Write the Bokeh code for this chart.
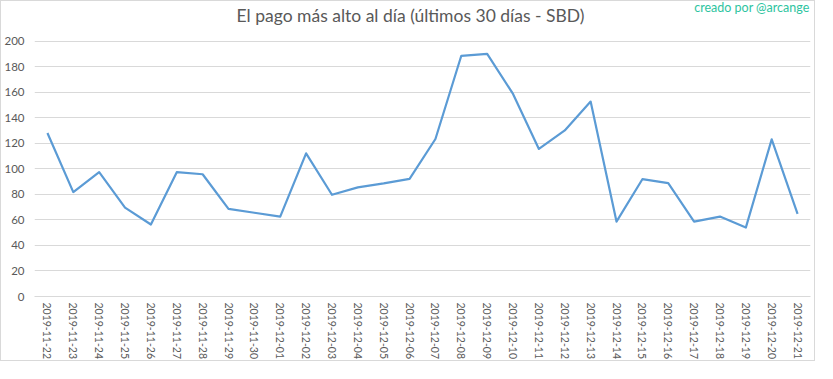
from bokeh.plotting import figure
from bokeh.models import Range1d, FixedTicker, Label
from bokeh.embed import file_html
from bokeh.resources import INLINE

dates = ["2019-11-22", "2019-11-23", "2019-11-24", "2019-11-25", "2019-11-26",
         "2019-11-27", "2019-11-28", "2019-11-29", "2019-11-30", "2019-12-01",
         "2019-12-02", "2019-12-03", "2019-12-04", "2019-12-05", "2019-12-06",
         "2019-12-07", "2019-12-08", "2019-12-09", "2019-12-10", "2019-12-11",
         "2019-12-12", "2019-12-13", "2019-12-14", "2019-12-15", "2019-12-16",
         "2019-12-17", "2019-12-18", "2019-12-19", "2019-12-20", "2019-12-21"]
payout = [128.1, 81.8, 97.4, 69.6, 56.4,
          97.4, 95.8, 68.6, 65.6, 62.6,
          112.2, 79.7, 85.5, 88.6, 92.2,
          123.4, 188.6, 190.1, 158.7, 115.6,
          130.1, 152.7, 58.7, 91.9, 88.8,
          58.7, 62.6, 54.0, 123.1, 64.7]
y_ticks = [0, 20, 40, 60, 80, 100, 120, 140, 160, 180, 200]

title_text = "El pago más alto al día (últimos 30 días - SBD)"
credit_text = "creado por @arcange"

idx = list(range(len(dates)))

W, H = 815, 361
BOTTOM = 64          # x-axis panel height
TOP_GAP = 40         # pixels between canvas top and the 200 gridline
frame_h = H - BOTTOM
y_top = 200 * frame_h / (frame_h - TOP_GAP)

p = figure(width=W, height=H, x_range=Range1d(-0.5, len(dates) - 0.5),
           y_range=Range1d(0, y_top),
           output_backend="svg", toolbar_location=None,
           min_border_left=30, min_border_right=6, min_border_top=0,
           min_border_bottom=BOTTOM)
p.outline_line_color = None
p.background_fill_color = "white"
p.border_fill_color = "white"
p.styles = {"border": "1px solid #d9d9d9"}

p.line(x=idx, y=payout, line_color="#5b9bd5", line_width=2.2, line_join="round")

grey = "#595959"
p.xgrid.grid_line_color = None
p.ygrid.grid_line_color = "#d9d9d9"
p.ygrid.grid_line_width = 1

p.yaxis.ticker = FixedTicker(ticks=y_ticks)
p.yaxis.axis_line_color = None
p.yaxis.major_tick_line_color = None
p.yaxis.minor_tick_line_color = None
p.yaxis.major_tick_out = 0
p.yaxis.major_tick_in = 0
p.yaxis.major_label_standoff = 10
p.yaxis.major_label_text_color = grey
p.yaxis.major_label_text_font = "Lato"
p.yaxis.major_label_text_font_size = "11.5px"

p.xaxis.ticker = FixedTicker(ticks=idx)
p.xaxis.major_label_overrides = {i: d for i, d in zip(idx, dates)}
p.xaxis.axis_line_color = "#d9d9d9"
p.xaxis.major_tick_line_color = None
p.xaxis.minor_tick_line_color = None
p.xaxis.major_tick_out = 0
p.xaxis.major_tick_in = 0
p.xaxis.major_label_orientation = "vertical"
p.xaxis.major_label_standoff = 6
p.xaxis.major_label_text_color = grey
p.xaxis.major_label_text_font = "Lato"
p.xaxis.major_label_text_font_size = "10.5px"

mid = (len(dates) - 1) / 2
p.add_layout(Label(x=mid, y=frame_h - 16, x_units="data", y_units="screen",
                   x_offset=-12,
                   text=title_text, text_align="center", text_baseline="middle",
                   text_font="Lato", text_font_size="17.5px", text_color=grey))
p.add_layout(Label(x=len(dates) - 0.5, y=frame_h - 8, x_units="data", y_units="screen",
                   x_offset=-1,
                   text=credit_text, text_align="right", text_baseline="middle",
                   text_font="Lato", text_font_size="12.5px", text_color="#2ec4a0"))

open("out.html", "w").write(file_html(p, INLINE))
